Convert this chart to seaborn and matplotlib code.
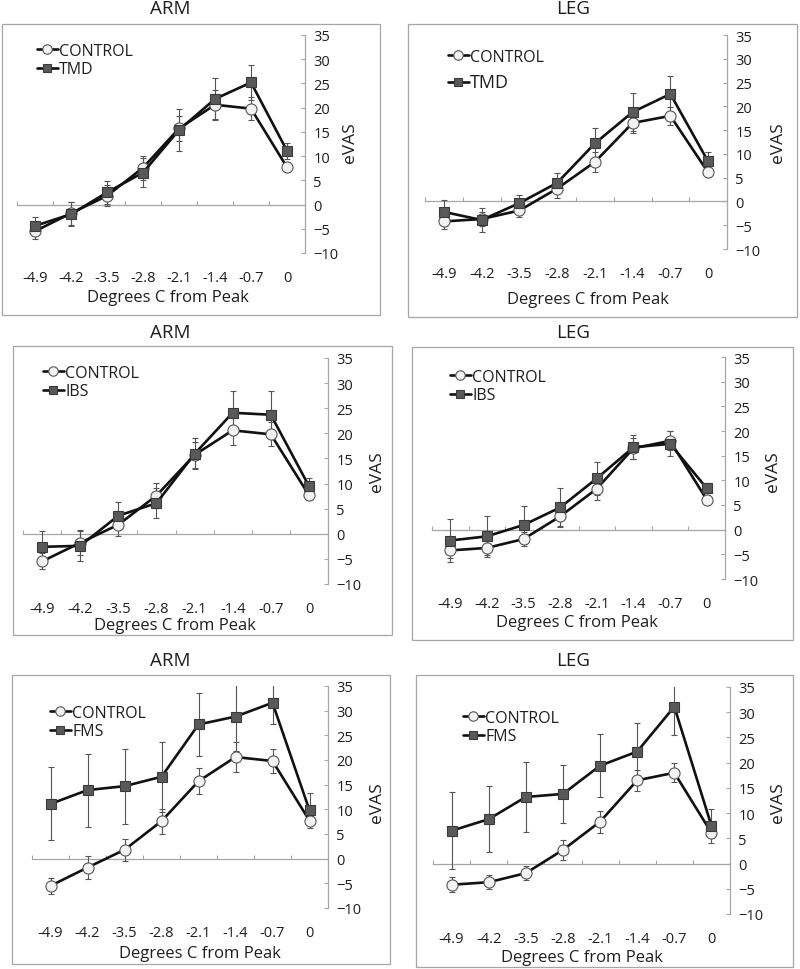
import numpy as np
import pandas as pd
import matplotlib
matplotlib.use("Agg")
import matplotlib.pyplot as plt
import seaborn as sns
from matplotlib.patches import Rectangle

# ---------------- data ----------------
x_labels = ["-4.9", "-4.2", "-3.5", "-2.8", "-2.1", "-1.4", "-0.7", "0"]

arm_control = [-5.5, -1.8, 1.8, 7.6, 15.7, 20.6, 19.8, 7.7]
arm_control_err = [1.6, 2.4, 2.2, 2.5, 2.6, 3.0, 2.4, 0.9]
leg_control = [-4.2, -3.7, -1.9, 2.7, 8.3, 16.5, 18.0, 6.1]
leg_control_err = [1.5, 1.4, 1.4, 1.9, 2.2, 2.1, 1.9, 0.9]

tmd_arm = [-4.4, -2.0, 2.5, 6.6, 15.4, 21.8, 25.2, 11.1]
tmd_arm_err = [1.8, 2.5, 2.4, 3.0, 4.4, 4.4, 3.6, 1.7]
tmd_leg = [-2.2, -3.9, -0.35, 3.9, 12.2, 18.8, 22.6, 8.4]
tmd_leg_err = [2.5, 2.6, 1.75, 2.1, 3.3, 4.0, 3.7, 2.0]

ibs_arm = [-2.6, -2.4, 3.6, 6.1, 15.9, 24.1, 23.7, 9.5]
ibs_arm_err = [3.2, 3.1, 2.7, 3.0, 3.1, 4.3, 4.8, 1.6]
ibs_leg = [-2.2, -1.35, 0.95, 4.5, 10.4, 16.7, 17.4, 8.4]
ibs_leg_err = [4.3, 4.2, 3.9, 3.9, 3.4, 2.4, 2.5, 1.0]

fms_arm = [11.1, 13.9, 14.7, 16.6, 27.2, 28.8, 31.6, 9.8]
fms_arm_err = [7.4, 7.4, 7.6, 7.1, 6.4, 7.0, 4.4, 3.6]
fms_leg = [6.5, 8.8, 13.2, 13.8, 19.4, 22.2, 31.1, 7.5]
fms_leg_err = [7.6, 6.5, 7.0, 5.7, 6.2, 5.7, 5.6, 3.4]

y_ticks = [-10, -5, 0, 5, 10, 15, 20, 25, 30, 35]
x_title = "Degrees C from Peak"
y_title = "eVAS"

# ---------------- layout (pixels, origin top-left) ----------------
W, H = 800, 970
sns.set_theme(style="white")
plt.rcParams['font.family'] = ['Open Sans', 'DejaVu Sans']

fig = plt.figure(figsize=(W / 100, H / 100), dpi=100)
fig.patch.set_facecolor("white")

def fx(x):
    return x / W

def fy(y):
    return 1 - y / H

panels = [
    dict(title="ARM", group="TMD", ctrl=arm_control, ctrl_err=arm_control_err, dis=tmd_arm, dis_err=tmd_arm_err,
         box=(2, 25, 380, 316), ax=(17, 36, 305, 254), title_xy=(170, 9), xlab=(168, 298), ylab=(350, 143),
         leg=(37, 61), leg_big=False),
    dict(title="LEG", group="TMD", ctrl=leg_control, ctrl_err=leg_control_err, dis=tmd_leg, dis_err=tmd_leg_err,
         box=(408, 25, 797, 318), ax=(425, 36, 727, 250), title_xy=(573, 9), xlab=(588, 300), ylab=(778, 143),
         leg=(448, 71), leg_big=True),
    dict(title="ARM", group="IBS", ctrl=arm_control, ctrl_err=arm_control_err, dis=ibs_arm, dis_err=ibs_arm_err,
         box=(13, 347, 392, 636), ax=(23, 359, 328, 585), title_xy=(170, 333), xlab=(175, 626), ylab=(377, 472),
         leg=(43, 383), leg_big=False),
    dict(title="LEG", group="IBS", ctrl=leg_control, ctrl_err=leg_control_err, dis=ibs_leg, dis_err=ibs_leg_err,
         box=(412, 348, 793, 641), ax=(432, 358, 725, 580), title_xy=(573, 333), xlab=(577, 623), ylab=(773, 472),
         leg=(450, 387), leg_big=False),
    dict(title="ARM", group="FMS", ctrl=arm_control, ctrl_err=arm_control_err, dis=fms_arm, dis_err=fms_arm_err,
         box=(12, 676, 390, 965), ax=(32, 687, 328, 909), title_xy=(170, 661), xlab=(200, 954), ylab=(377, 803),
         leg=(50, 723), leg_big=False),
    dict(title="LEG", group="FMS", ctrl=leg_control, ctrl_err=leg_control_err, dis=fms_leg, dis_err=fms_leg_err,
         box=(416, 676, 793, 968), ax=(433, 688, 730, 915), title_xy=(573, 661), xlab=(582, 958), ylab=(778, 803),
         leg=(463, 728), leg_big=False),
]

GRID = "#a6a6a6"
TXT = "#1e1e1e"
pos = np.arange(len(x_labels))

for p in panels:
    bx0, by0, bx1, by1 = p["box"]
    fig.add_artist(Rectangle((fx(bx0), fy(by1)), (bx1 - bx0) / W, (by1 - by0) / H,
                             transform=fig.transFigure, fill=False, ec=GRID, lw=0.9))
    x0, y0, x1, y1 = p["ax"]
    ax = fig.add_axes([fx(x0), fy(y1), (x1 - x0) / W, (y1 - y0) / H])
    ax.set_facecolor("none")

    df = pd.DataFrame({"pos": pos, "ctrl": p["ctrl"], "dis": p["dis"]})

    ax.errorbar(pos, p["ctrl"], yerr=p["ctrl_err"], fmt="none", ecolor="#555555",
                elinewidth=0.8, capsize=2.5, capthick=0.8, zorder=2)
    ax.errorbar(pos, p["dis"], yerr=p["dis_err"], fmt="none", ecolor="#555555",
                elinewidth=0.8, capsize=2.5, capthick=0.8, zorder=2)

    sns.lineplot(data=df, x="pos", y="ctrl", ax=ax, color="#111111", lw=1.9, marker="o",
                 markersize=8, markerfacecolor="#f2f2f2", markeredgecolor="#555555",
                 markeredgewidth=0.8, label="CONTROL", zorder=3)
    sns.lineplot(data=df, x="pos", y="dis", ax=ax, color="#111111", lw=1.9, marker="s",
                 markersize=7.5, markerfacecolor="#595959", markeredgecolor="#3a3a3a",
                 markeredgewidth=0.8, label=p["group"], zorder=4)

    ax.set_xlim(-0.5, len(x_labels) - 0.5)
    ax.set_ylim(-10, 35)

    # right-hand value axis
    for s in ["left", "top", "bottom"]:
        ax.spines[s].set_visible(False)
    ax.spines["right"].set_visible(True)
    ax.spines["right"].set_color(GRID)
    ax.spines["right"].set_linewidth(0.9)
    ax.yaxis.tick_right()
    ax.set_yticks(y_ticks)
    ax.tick_params(axis="y", which="major", direction="in", length=3, width=0.8, color=GRID,
                   labelsize=10.5, labelcolor=TXT, pad=6, right=True, left=False)

    # category labels at the bottom
    ax.set_xticks(pos, labels=x_labels)
    ax.tick_params(axis="x", which="major", length=0, pad=12, labelsize=10.5, labelcolor=TXT,
                   bottom=True)

    # horizontal category axis crossing at zero
    sec = ax.secondary_xaxis(10 / 45)
    sec.set_xticks(np.arange(-0.5, len(x_labels) - 1, 1.0))
    sec.tick_params(axis="x", direction="in", length=3, width=0.8, color=GRID, labelbottom=False,
                    labeltop=False)
    for s in sec.spines.values():
        s.set_color(GRID)
        s.set_linewidth(0.9)

    # axis titles
    ax.set_xlabel(x_title, fontsize=12, color=TXT)
    ax.set_ylabel(y_title, fontsize=12.5, color=TXT, rotation=90)
    inv = ax.transAxes.inverted()
    xl = inv.transform(fig.transFigure.transform((fx(p["xlab"][0]), fy(p["xlab"][1]))))
    yl = inv.transform(fig.transFigure.transform((fx(p["ylab"][0]), fy(p["ylab"][1]))))
    ax.xaxis.set_label_coords(xl[0], xl[1])
    ax.xaxis.label.set_va("center")
    ax.yaxis.set_label_coords(yl[0], yl[1])
    ax.yaxis.label.set_va("center")
    ax.yaxis.label.set_ha("center")

    fig.text(fx(p["title_xy"][0]), fy(p["title_xy"][1]), p["title"], ha="center", va="center",
             fontsize=13.5, color=TXT)

    leg = ax.legend(loc="center left", bbox_to_anchor=(fx(p["leg"][0]), fy(p["leg"][1])),
                    bbox_transform=fig.transFigure, frameon=False, fontsize=11.5,
                    handlelength=1.3, handletextpad=0.1, borderpad=0, borderaxespad=0,
                    labelspacing=0.15 if not p["leg_big"] else 0.55, markerscale=0.85)
    for t in leg.get_texts():
        t.set_color(TXT)
    if p["leg_big"]:
        leg.get_texts()[1].set_fontsize(13)

fig.savefig("out.png", dpi=100)
